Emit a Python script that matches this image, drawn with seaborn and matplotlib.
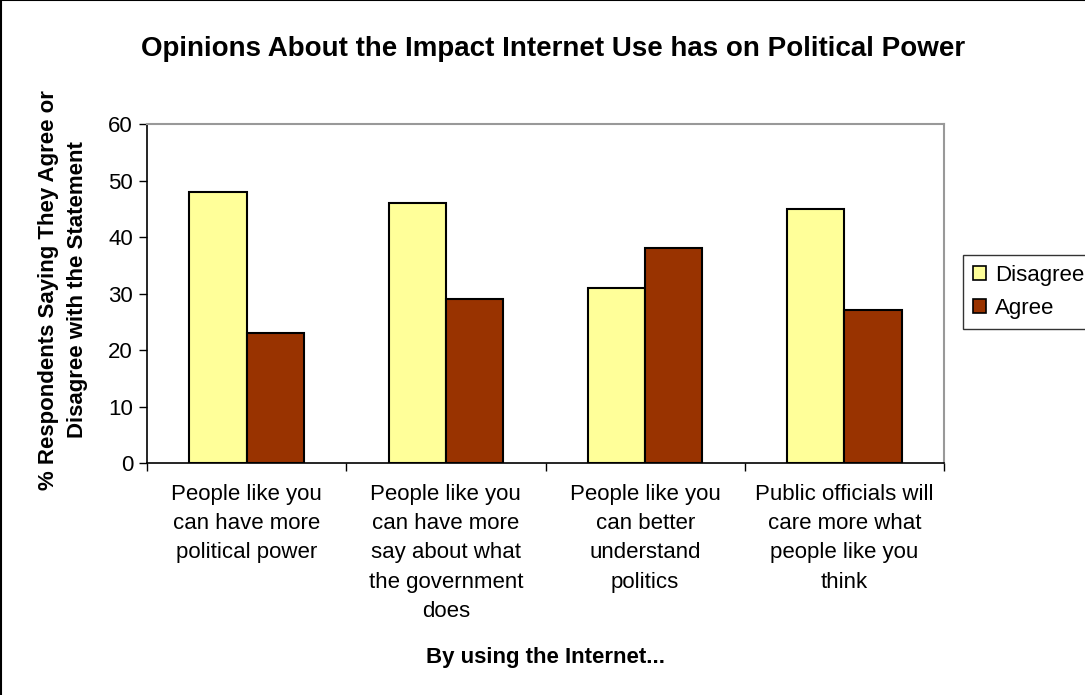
import matplotlib
matplotlib.use("Agg")
import matplotlib.pyplot as plt
import seaborn as sns
import pandas as pd
from matplotlib.lines import Line2D

categories = [
    "People like you\ncan have more\npolitical power",
    "People like you\ncan have more\nsay about what\nthe government\ndoes",
    "People like you\ncan better\nunderstand\npolitics",
    "Public officials will\ncare more what\npeople like you\nthink",
]
disagree = [48, 46, 31, 45]
agree = [23, 29, 38, 27]
series_names = ["Disagree", "Agree"]
colors = ["#FFFF99", "#993300"]

df = pd.DataFrame({
    "cat": categories * 2,
    "val": disagree + agree,
    "series": [series_names[0]] * 4 + [series_names[1]] * 4,
})

sns.set_style("white")
plt.rcParams["font.family"] = ["Liberation Sans", "DejaVu Sans"]
plt.rcParams["text.color"] = "black"
plt.rcParams["axes.labelcolor"] = "black"
plt.rcParams["xtick.color"] = "black"
plt.rcParams["ytick.color"] = "black"

fig = plt.figure(figsize=(10.85, 6.95), dpi=100)
ax = fig.add_axes([147/1085, 1 - 463/695, (944-147)/1085, (463-124)/695])

sns.barplot(data=df, x="cat", y="val", hue="series", palette=colors,
            width=0.575, gap=0, edgecolor="black", linewidth=1.5, ax=ax,
            legend=True, saturation=1)

FS = 16
ax.set_ylim(0, 60)
ax.set_xlim(-0.5, 3.5)
ax.set_yticks(range(0, 61, 10))
ax.tick_params(axis="y", labelsize=FS, length=6, width=1, direction="out", left=True, color="black", pad=4)
ax.set_xticks(range(4))
ax.set_xticklabels(categories, fontsize=FS, linespacing=1.52, va="top")
ax.tick_params(axis="x", length=0, pad=15)
ax.set_xticks([-0.5, 0.5, 1.5, 2.5, 3.5], minor=True)
ax.tick_params(axis="x", which="minor", length=6, width=1, color="black", bottom=True)

for s in ["left", "bottom"]:
    ax.spines[s].set_color("black")
    ax.spines[s].set_linewidth(1.2)
for s in ["top", "right"]:
    ax.spines[s].set_color("#999999")
    ax.spines[s].set_linewidth(1.5)

ax.set_xlabel("")
ax.set_ylabel("")
fig.text(545/1085, 1 - 658/695, "By using the Internet...", ha="center", va="center",
         fontsize=FS, fontweight="bold")
fig.text(63/1085, 1 - 290/695, "% Respondents Saying They Agree or\nDisagree with the Statement",
         ha="center", va="center", rotation=90, fontsize=FS, fontweight="bold", linespacing=1.45)

fig.text(553/1085, 1 - 49/695, "Opinions About the Impact Internet Use has on Political Power",
         ha="center", va="center", fontsize=20, fontweight="bold")

leg = ax.legend(loc="upper left", bbox_to_anchor=(963/1085, 1 - 255/695),
                bbox_transform=fig.transFigure, fontsize=FS, frameon=True,
                fancybox=False, edgecolor="black", handlelength=0.6, handleheight=0.6,
                handletextpad=0.4, borderpad=0.45, labelspacing=0.55, borderaxespad=0)
leg.get_frame().set_linewidth(1.0)
for h in leg.legend_handles:
    h.set_edgecolor("black")
    h.set_linewidth(1.2)

fig.add_artist(Line2D([0.0005, 0.0005], [0, 1], transform=fig.transFigure, color="black", linewidth=1.5))
fig.add_artist(Line2D([0, 1], [0.9993, 0.9993], transform=fig.transFigure, color="black", linewidth=1.5))

fig.savefig("out.png", dpi=100)
